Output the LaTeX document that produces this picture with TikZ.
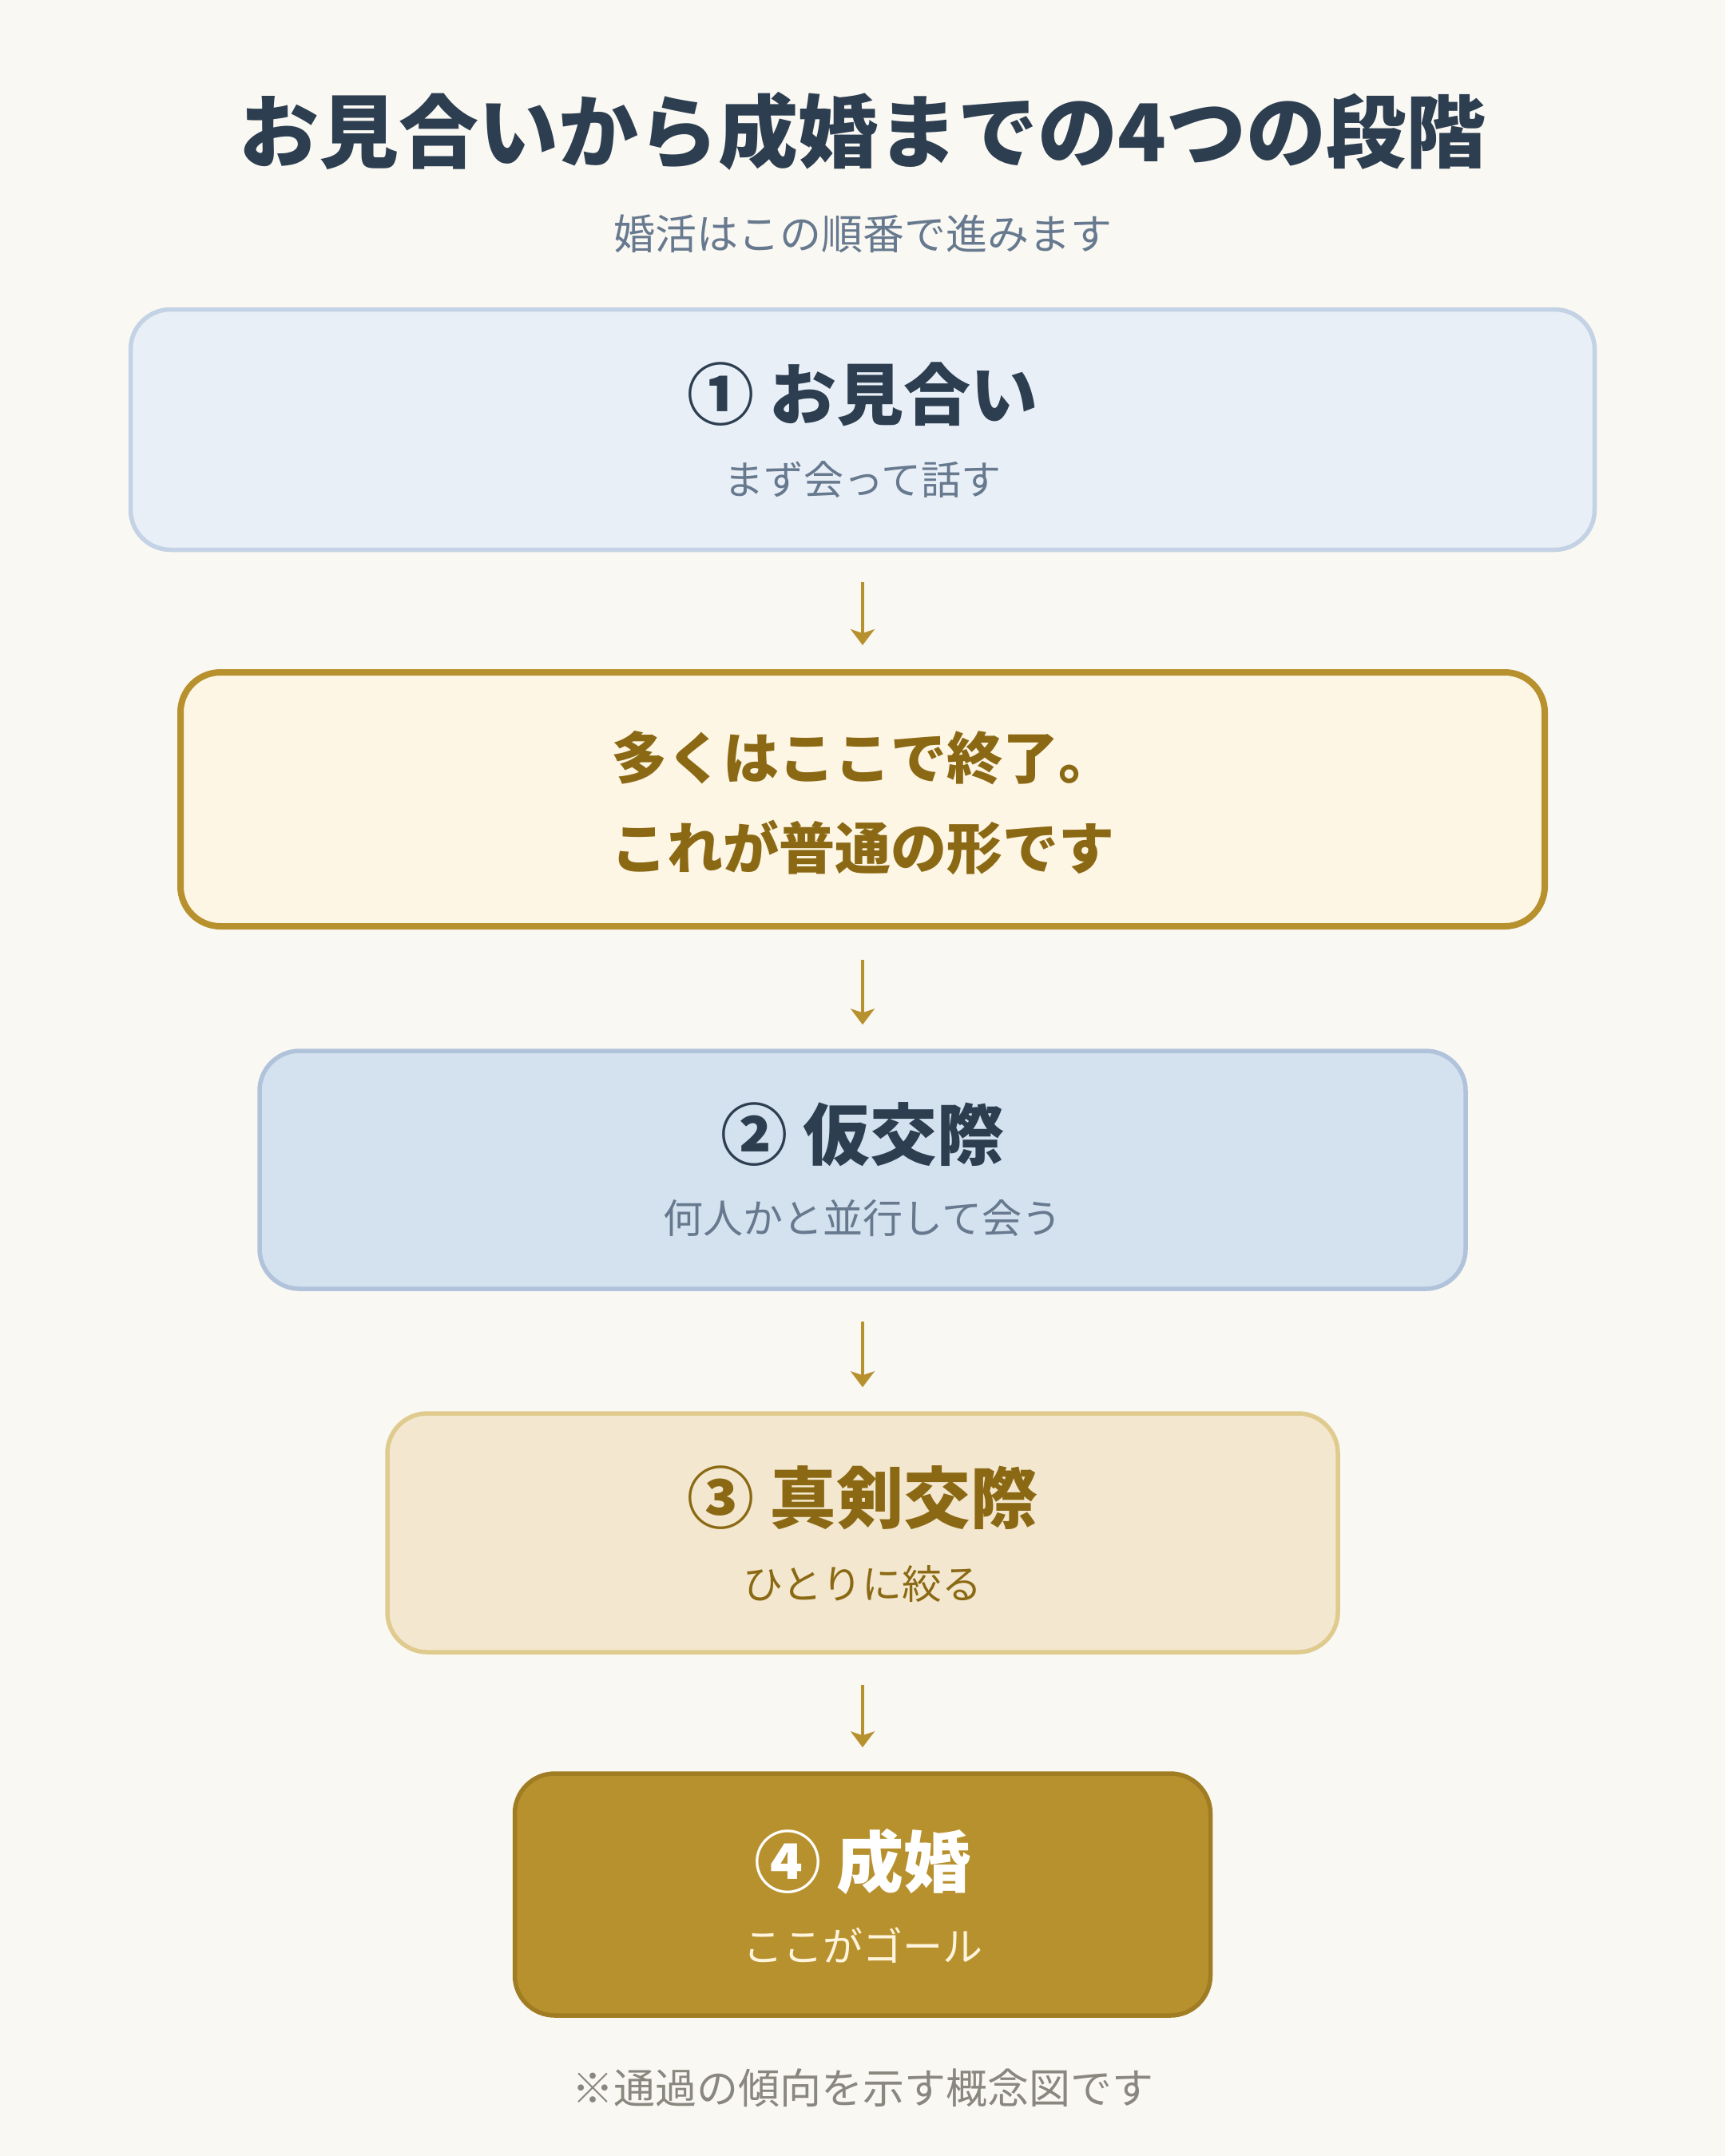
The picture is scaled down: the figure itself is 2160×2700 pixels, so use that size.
\documentclass[tikz,border=0pt]{standalone}
\usepackage{fontspec}
\setmainfont{Noto Sans CJK JP}
\usetikzlibrary{arrows.meta}
\definecolor{bg}{HTML}{FAF8F3}
\definecolor{navy}{HTML}{2C3E50}
\definecolor{slate}{HTML}{67798E}
\definecolor{gold}{HTML}{B8912F}
\definecolor{golddark}{HTML}{8B6914}
\definecolor{goldborder}{HTML}{A07C22}
\definecolor{fillA}{HTML}{E8EFF7}
\definecolor{lineA}{HTML}{C3D2E4}
\definecolor{fillN}{HTML}{FEF6E5}
\definecolor{fillB}{HTML}{D4E1EF}
\definecolor{lineB}{HTML}{B0C3DB}
\definecolor{fillC}{HTML}{F3E8CF}
\definecolor{lineC}{HTML}{E0CB8F}
\definecolor{cream}{HTML}{FFF5DC}
\definecolor{footgray}{HTML}{8A877F}
\begin{document}
\begin{tikzpicture}[x=0.5pt,y=-0.5pt,
  stagebox/.style={rounded corners=25pt, line width=2.75pt, inner sep=0pt},
  maintitle/.style={inner sep=0pt, font=\fontsize{50pt}{60pt}\selectfont\bfseries, text=navy},
  subtitle/.style={inner sep=0pt, font=\fontsize{26pt}{32pt}\selectfont, text=slate},
  stagetitle/.style={inner sep=0pt, font=\fontsize{42pt}{50pt}\selectfont\bfseries},
  stagesub/.style={inner sep=0pt, font=\fontsize{25pt}{30pt}\selectfont},
  notetext/.style={inner sep=0pt, font=\fontsize{35pt}{42pt}\selectfont\bfseries, text=golddark},
  flow/.style={draw=gold, line width=1.65pt, -{Stealth[length=10pt,width=15pt,inset=2.5pt]}, shorten <=19pt, shorten >=15pt},
  foot/.style={inner sep=0pt, font=\fontsize{26pt}{32pt}\selectfont, text=footgray}
]
\fill[bg] (0,0) rectangle (2160,2700);
\useasboundingbox (0,0) rectangle (2160,2700);

\node[maintitle] (title) at (1080,164) {お見合いから成婚までの4つの段階};
\node[subtitle] (sub) at (1080,293) {婚活はこの順番で進みます};

% stage 1
\node[stagebox, draw=lineA, fill=fillA, minimum width=916.5pt, minimum height=150.5pt] (s1) at (1080,538) {};
\node[stagetitle, text=navy] (s1t) at (1080,494) {① お見合い};
\node[stagesub, text=slate] (s1s) at (1080,601) {まず会って話す};

% note
\node[stagebox, line width=4pt, draw=gold, fill=fillN, minimum width=854pt, minimum height=159pt] (n) at (1080,1001) {};
\node[notetext] (n1) at (1080,949) {多くはここで終了。};
\node[notetext] (n2) at (1080,1061) {これが普通の形です};

% stage 2
\node[stagebox, draw=lineB, fill=fillB, minimum width=755pt, minimum height=149pt] (s2) at (1080,1465) {};
\node[stagetitle, text=navy] (s2t) at (1080,1421) {② 仮交際};
\node[stagesub, text=slate] (s2s) at (1080,1526) {何人かと並行して会う};

% stage 3
\node[stagebox, draw=lineC, fill=fillC, minimum width=595pt, minimum height=149.5pt] (s3) at (1080,1919.5) {};
\node[stagetitle, text=golddark] (s3t) at (1080,1876) {③ 真剣交際};
\node[stagesub, text=golddark] (s3s) at (1080,1983) {ひとりに絞る};

% stage 4
\node[stagebox, draw=goldborder, fill=gold, minimum width=435.5pt, minimum height=151.5pt] (s4) at (1080,2372.5) {};
\node[stagetitle, text=white] (s4t) at (1080,2331) {④ 成婚};
\node[stagesub, text=cream] (s4s) at (1080,2436) {ここがゴール};

% connectors
\draw[flow] (s1.south) -- (n.north);
\draw[flow] (n.south) -- (s2.north);
\draw[flow] (s2.south) -- (s3.north);
\draw[flow] (s3.south) -- (s4.north);

\node[foot] (note) at (1080,2615) {※通過の傾向を示す概念図です};
\end{tikzpicture}
\end{document}
